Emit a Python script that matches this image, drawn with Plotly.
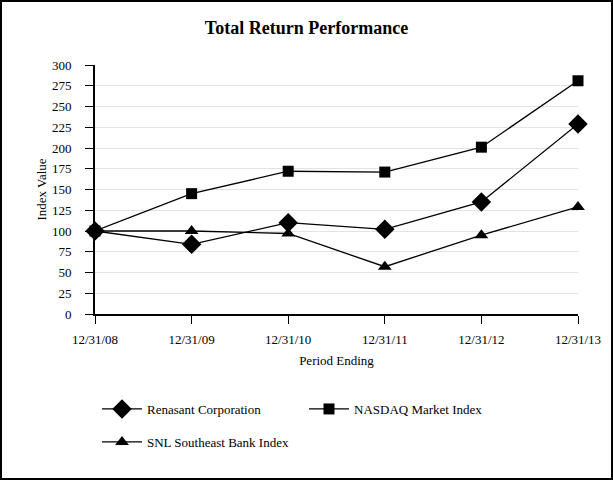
import plotly.graph_objects as go

periods = ["12/31/08", "12/31/09", "12/31/10", "12/31/11", "12/31/12", "12/31/13"]
renasant = [100, 84, 110, 102, 135, 229]
nasdaq = [100, 145, 172, 171, 201, 281]
snl = [100, 100, 97, 57, 95, 129]

W, H = 613, 480
L, R, T, B = 95, 35, 65, 166
pw, ph = W - L - R, H - T - B

xs = list(range(len(periods)))
font = "Liberation Serif, Times New Roman, serif"

fig = go.Figure()
fig.add_trace(go.Scatter(x=xs, y=renasant, name="Renasant Corporation", mode="lines+markers",
                         line=dict(color="black", width=1.3), legend="legend",
                         marker=dict(symbol="diamond", size=15, color="black"), cliponaxis=False))
fig.add_trace(go.Scatter(x=xs, y=nasdaq, name="NASDAQ Market Index", mode="lines+markers",
                         line=dict(color="black", width=1.3), legend="legend",
                         marker=dict(symbol="square", size=11, color="black"), cliponaxis=False))
fig.add_trace(go.Scatter(x=xs, y=snl, name="SNL Southeast Bank Index", mode="lines+markers",
                         line=dict(color="black", width=1.3), legend="legend2",
                         marker=dict(symbol="triangle-up", size=12, color="black"), cliponaxis=False))

leg_common = dict(orientation="h", xanchor="left", yanchor="top",
                  entrywidth=152, entrywidthmode="pixels", font=dict(size=13, family=font),
                  itemwidth=40, bgcolor="rgba(0,0,0,0)")

fig.update_layout(
    width=W, height=H,
    margin=dict(l=L, r=R, t=T, b=B, autoexpand=False),
    paper_bgcolor="white", plot_bgcolor="white",
    font=dict(family=font, size=13, color="black"),
    title=dict(text="<b>Total Return Performance</b>", x=0.5, xanchor="center",
               y=1 - 28 / H, yanchor="middle", font=dict(size=18, family=font)),
    xaxis=dict(range=[0, 5], tickvals=xs, ticktext=periods, showgrid=False,
               showline=True, linecolor="black", linewidth=2,
               ticks="outside", ticklen=8, tickcolor="black", ticklabelstandoff=4,
               title=dict(text="Period Ending", standoff=10, font=dict(size=13, family=font)),
               zeroline=False),
    yaxis=dict(range=[0, 300], dtick=25, showgrid=True, gridcolor="#e3e3e3", gridwidth=1,
               showline=True, linecolor="black", linewidth=2,
               ticks="outside", ticklen=8, tickcolor="black", ticklabelstandoff=11,
               title=dict(text="Index Value", standoff=2, font=dict(size=13, family=font)),
               zeroline=False),
    legend=dict(x=2 / pw, y=(T + ph - 394) / ph, **leg_common),
    legend2=dict(x=2 / pw, y=(T + ph - 427) / ph, **leg_common),
    showlegend=True,
)

fig.add_shape(type="rect", xref="paper", yref="paper",
              x0=(1 - L) / pw, x1=(W - 1 - L) / pw,
              y0=-(B - 1) / ph, y1=1 + (T - 1) / ph,
              line=dict(color="black", width=2), fillcolor="rgba(0,0,0,0)", layer="above")

fig.write_html("out.html", config={"displayModeBar": False},
               post_script="document.body.style.margin='0';")
